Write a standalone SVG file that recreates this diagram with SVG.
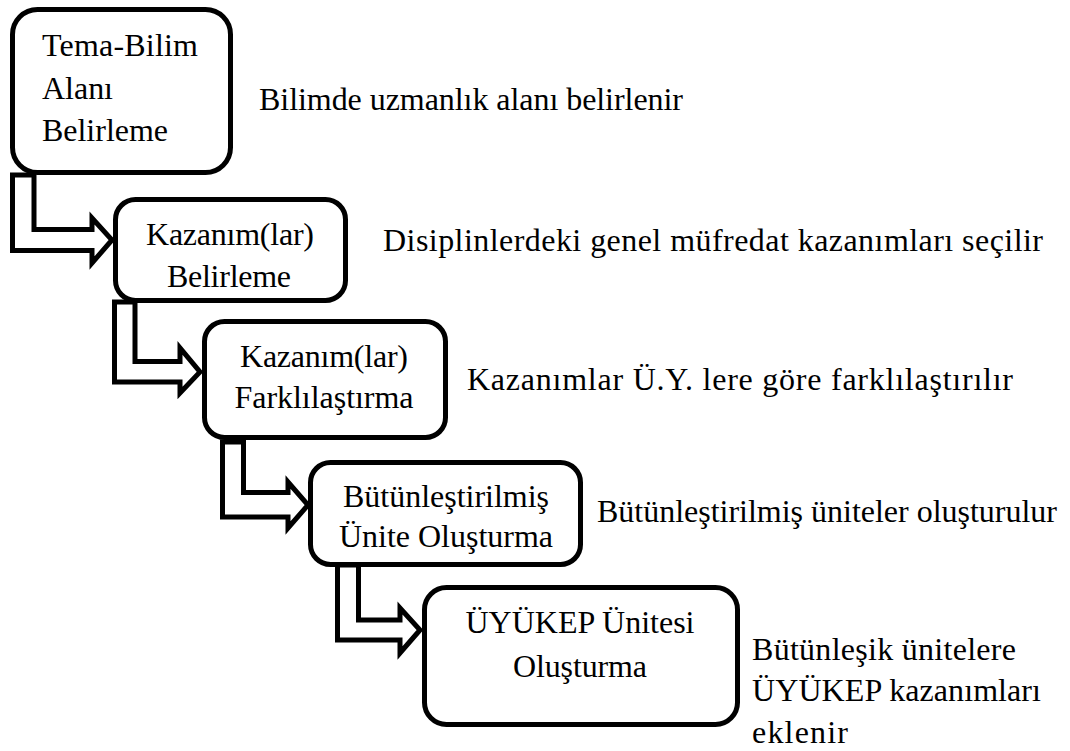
<svg xmlns="http://www.w3.org/2000/svg" width="1070" height="751" viewBox="0 0 1070 751">
  <style>
    .box { fill: #ffffff; stroke: #000000; stroke-width: 5; }
    .flow { fill: #ffffff; stroke: #000000; stroke-width: 5; stroke-linejoin: miter; }
    text { font-family: 'Liberation Serif', 'Times New Roman', Tinos, 'Noto Serif', 'DejaVu Serif', serif; font-size: 32px; fill: #000000; }
    .c { text-anchor: middle; }
  </style>
  <rect width="1070" height="751" fill="#ffffff"/>

  <!-- process steps -->
  <g id="step1">
    <rect class="box" x="12.5" y="9.5" width="218" height="163" rx="25"/>
    <text x="42" y="56" textLength="156">Tema-Bilim</text>
    <text x="42" y="99" textLength="71">Alanı</text>
    <text x="42" y="141" textLength="126">Belirleme</text>
  </g>
  <g id="step2">
    <rect class="box" x="115.5" y="199.5" width="230" height="101" rx="20"/>
    <text class="c" x="230" y="245" textLength="168">Kazanım(lar)</text>
    <text class="c" x="229" y="287" textLength="124">Belirleme</text>
  </g>
  <g id="step3">
    <rect class="box" x="204.5" y="321.5" width="241" height="116" rx="20"/>
    <text class="c" x="324" y="367" textLength="168">Kazanım(lar)</text>
    <text class="c" x="324" y="408" textLength="179">Farklılaştırma</text>
  </g>
  <g id="step4">
    <rect class="box" x="310.5" y="462.5" width="270" height="102" rx="20"/>
    <text class="c" x="446" y="507" textLength="206">Bütünleştirilmiş</text>
    <text class="c" x="446" y="547" textLength="214">Ünite Oluşturma</text>
  </g>
  <g id="step5">
    <rect class="box" x="424.5" y="587.5" width="313" height="137" rx="22"/>
    <text class="c" x="580" y="633" textLength="229">ÜYÜKEP Ünitesi</text>
    <text class="c" x="580" y="677" textLength="134">Oluşturma</text>
  </g>

  <!-- bent block arrows between steps -->
  <g id="connectors">
    <path class="flow" d="M12.5,175 V250.5 H92 V263 L112,240 L92,218 V229.5 H34 V175 Z"/>
    <path class="flow" d="M114.5,302 V382 H180 V393 L200,372 L180,348 V361.5 H135 V302 Z"/>
    <path class="flow" d="M222.5,442 V517 H288 V528 L308,505 L288,482 V492.5 H243.5 V442 Z"/>
    <path class="flow" d="M337.5,565 V640 H400 V653 L420,630 L400,608 V620 H358.5 V565 Z"/>
  </g>

  <!-- step descriptions -->
  <g id="notes">
    <text x="259" y="110" textLength="424">Bilimde uzmanlık alanı belirlenir</text>
    <text x="383" y="251" textLength="660">Disiplinlerdeki genel müfredat kazanımları seçilir</text>
    <text x="467" y="390" textLength="546">Kazanımlar Ü.Y. lere göre farklılaştırılır</text>
    <text x="597" y="522" textLength="460">Bütünleştirilmiş üniteler oluşturulur</text>
    <text x="752" y="660" textLength="264">Bütünleşik ünitelere</text>
    <text x="752" y="701" textLength="289">ÜYÜKEP kazanımları</text>
    <text x="752" y="743" textLength="96">eklenir</text>
  </g>
</svg>
